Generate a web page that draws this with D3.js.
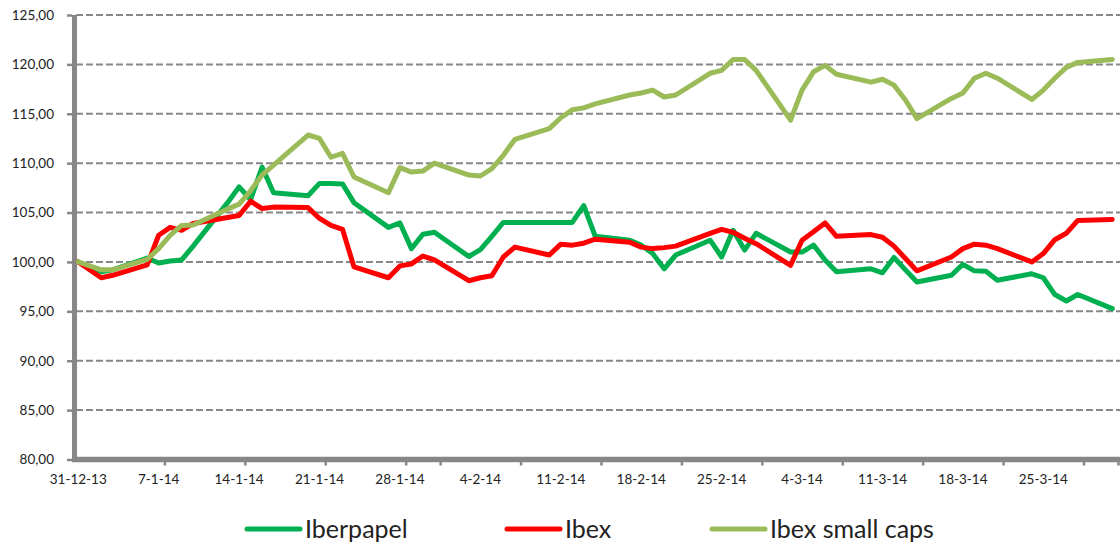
<!DOCTYPE html>
<html>
<head>
<meta charset="utf-8">
<script src="https://cdn.jsdelivr.net/npm/d3@7"></script>
<style>
  html, body { margin: 0; padding: 0; background: #fff; }
  svg { display: block; }
  text { font-family: Lato, "Open Sans", sans-serif; fill: #222; }
</style>
</head>
<body>
<svg id="chart" width="1120" height="545"></svg>
<script>
// ---------- DATA ----------
const dates = [
  "2013-12-31","2014-01-02","2014-01-03","2014-01-06","2014-01-07","2014-01-08","2014-01-09","2014-01-10",
  "2014-01-13","2014-01-14","2014-01-15","2014-01-16","2014-01-17","2014-01-20","2014-01-21","2014-01-22",
  "2014-01-23","2014-01-24","2014-01-27","2014-01-28","2014-01-29","2014-01-30","2014-01-31","2014-02-03",
  "2014-02-04","2014-02-05","2014-02-06","2014-02-07","2014-02-10","2014-02-11","2014-02-12","2014-02-13",
  "2014-02-14","2014-02-17","2014-02-18","2014-02-19","2014-02-20","2014-02-21","2014-02-24","2014-02-25",
  "2014-02-26","2014-02-27","2014-02-28","2014-03-03","2014-03-04","2014-03-05","2014-03-06","2014-03-07",
  "2014-03-10","2014-03-11","2014-03-12","2014-03-13","2014-03-14","2014-03-17","2014-03-18","2014-03-19",
  "2014-03-20","2014-03-21","2014-03-24","2014-03-25","2014-03-26","2014-03-27","2014-03-28","2014-03-31"
];
const iberpapel = [
  100, 99.0, 99.2, 100.4, 99.9, 100.1, 100.2, 101.6,
  106.0, 107.6, 106.3, 109.6, 107.0, 106.7, 107.95, 107.95,
  107.9, 106.0, 103.5, 103.95, 101.35, 102.8, 103.0, 100.55,
  101.25, 102.6, 104.0, 104.0, 104.0, 104.0, 104.0, 105.7,
  102.6, 102.2, 101.7, 100.85, 99.3, 100.7, 102.2, 100.5,
  103.2, 101.2, 102.9, 101.0, 101.0, 101.7, 100.2, 99.0,
  99.3, 98.9, 100.45, 99.2, 97.97, 98.65, 99.76, 99.1,
  99.05, 98.15, 98.8, 98.4, 96.7, 96.05, 96.7, 95.27
];
const ibex = [
  100, 98.4, 98.65, 99.7, 102.7, 103.5, 103.2, 103.9,
  104.5, 104.7, 106.15, 105.4, 105.55, 105.5, 104.4, 103.7,
  103.3, 99.5, 98.4, 99.6, 99.8, 100.6, 100.2, 98.1,
  98.4, 98.6, 100.5, 101.5, 100.7, 101.8, 101.7, 101.9,
  102.3, 102.0, 101.5, 101.35, 101.45, 101.6, 102.9, 103.3,
  103.0, 102.4, 101.85, 99.66, 102.2, 103.05, 103.95, 102.6,
  102.77, 102.5, 101.6, 100.35, 99.1, 100.5, 101.35, 101.8,
  101.7, 101.35, 100.0, 100.85, 102.25, 102.9, 104.2, 104.3
];
const smallCaps = [
  100, 99.2, 99.2, 100.25, 101.35, 102.7, 103.7, 103.75,
  105.35, 105.85, 107.2, 108.8, 109.8, 112.85, 112.5, 110.6,
  111.0, 108.6, 107.0, 109.55, 109.1, 109.2, 110.0, 108.8,
  108.7, 109.45, 110.8, 112.4, 113.5, 114.6, 115.4, 115.6,
  116.0, 116.9, 117.1, 117.4, 116.7, 116.9, 119.1, 119.4,
  120.5, 120.5, 119.4, 114.35, 117.4, 119.25, 119.9, 119.0,
  118.2, 118.5, 117.9, 116.4, 114.5, 116.55, 117.1, 118.6,
  119.1, 118.6, 116.45, 117.4, 118.6, 119.7, 120.2, 120.5
];
const seriesNames = ["Iberpapel", "Ibex", "Ibex small caps"];
const seriesColors = ["#00B050", "#FF0000", "#9BBB59"];
const xTickDates = [
  "2013-12-31","2014-01-07","2014-01-14","2014-01-21","2014-01-28","2014-02-04","2014-02-11",
  "2014-02-18","2014-02-25","2014-03-04","2014-03-11","2014-03-18","2014-03-25"
];
const xTickLabels = ["31-12-13","7-1-14","14-1-14","21-1-14","28-1-14","4-2-14","11-2-14",
  "18-2-14","25-2-14","4-3-14","11-3-14","18-3-14","25-3-14"];
const yTicks = [80, 85, 90, 95, 100, 105, 110, 115, 120, 125];

// ---------- CHART ----------
const svg = d3.select("#chart");
const parse = d3.utcParse("%Y-%m-%d");
const DAY = 864e5;
const half = d => new Date(parse(d).getTime() + DAY / 2);

const x = d3.scaleUtc()
  .domain([parse("2013-12-31"), parse("2014-04-01")])
  .range([72.5, 1118]);
const y = d3.scaleLinear().domain([80, 125]).range([459.5, 15]);

const fmt = v => d3.format(".2f")(v).replace(".", ",");

// gridlines
svg.append("g").selectAll("line")
  .data(yTicks.filter(t => t > 80))
  .join("line")
  .attr("x1", 76).attr("x2", 1120)
  .attr("y1", d => y(d)).attr("y2", d => y(d))
  .attr("stroke", "#878787").attr("stroke-width", 2)
  .attr("stroke-dasharray", "7,3");

// y axis
const yAxis = d3.axisLeft(y).tickValues(yTicks).tickSize(5).tickPadding(13).tickFormat(fmt);
const gy = svg.append("g").attr("transform", "translate(72,0)").call(yAxis);
gy.select(".domain").remove();
gy.selectAll(".tick line").attr("stroke", "#878787").attr("stroke-width", 2.5);
gy.selectAll(".tick text").attr("font-size", "13.5px").attr("font-family", "Lato").attr("fill", "#222");
svg.append("line").attr("x1", 74.5).attr("x2", 74.5).attr("y1", 15).attr("y2", 462)
  .attr("stroke", "#878787").attr("stroke-width", 5);

// x axis: ticks at week boundaries
const weekTicks = d3.utcDay.every(7).range(parse("2013-12-31"), parse("2014-04-02"));
const xAxisTicks = d3.axisBottom(x).tickValues(weekTicks.filter((d, i) => i > 0)).tickSize(6).tickFormat("");
const gx = svg.append("g").attr("transform", "translate(0,459.5)").call(xAxisTicks);
gx.select(".domain").remove();
gx.selectAll(".tick line").attr("stroke", "#878787").attr("stroke-width", 2.5);
svg.append("line").attr("x1", 72).attr("x2", 1120).attr("y1", 459.5).attr("y2", 459.5)
  .attr("stroke", "#878787").attr("stroke-width", 5.5);

// x labels centred in the day slot
svg.append("g").selectAll("text")
  .data(xTickDates)
  .join("text")
  .attr("x", d => x(half(d)))
  .attr("y", 484)
  .attr("text-anchor", "middle")
  .attr("font-size", "13.5px")
  .text((d, i) => xTickLabels[i]);

// lines
const allSeries = [iberpapel, ibex, smallCaps];
const line = d3.line()
  .x(d => x(half(d.date)))
  .y(d => y(d.value));
allSeries.forEach((vals, si) => {
  const pts = dates.map((d, i) => ({ date: d, value: vals[i] }));
  svg.append("path")
    .datum(pts)
    .attr("d", line)
    .attr("fill", "none")
    .attr("stroke", seriesColors[si])
    .attr("stroke-width", 5)
    .attr("stroke-linejoin", "round")
    .attr("stroke-linecap", "round");
});

// legend
const legendX = [247, 507, 712];
const legend = svg.append("g");
seriesNames.forEach((name, i) => {
  legend.append("line")
    .attr("x1", legendX[i]).attr("x2", legendX[i] + 53)
    .attr("y1", 529).attr("y2", 529)
    .attr("stroke", seriesColors[i]).attr("stroke-width", 5)
    .attr("stroke-linecap", "round");
  legend.append("text")
    .attr("x", legendX[i] + 58).attr("y", 537.5)
    .attr("font-size", "25px")
    .text(name);
});
</script>
</body>
</html>
